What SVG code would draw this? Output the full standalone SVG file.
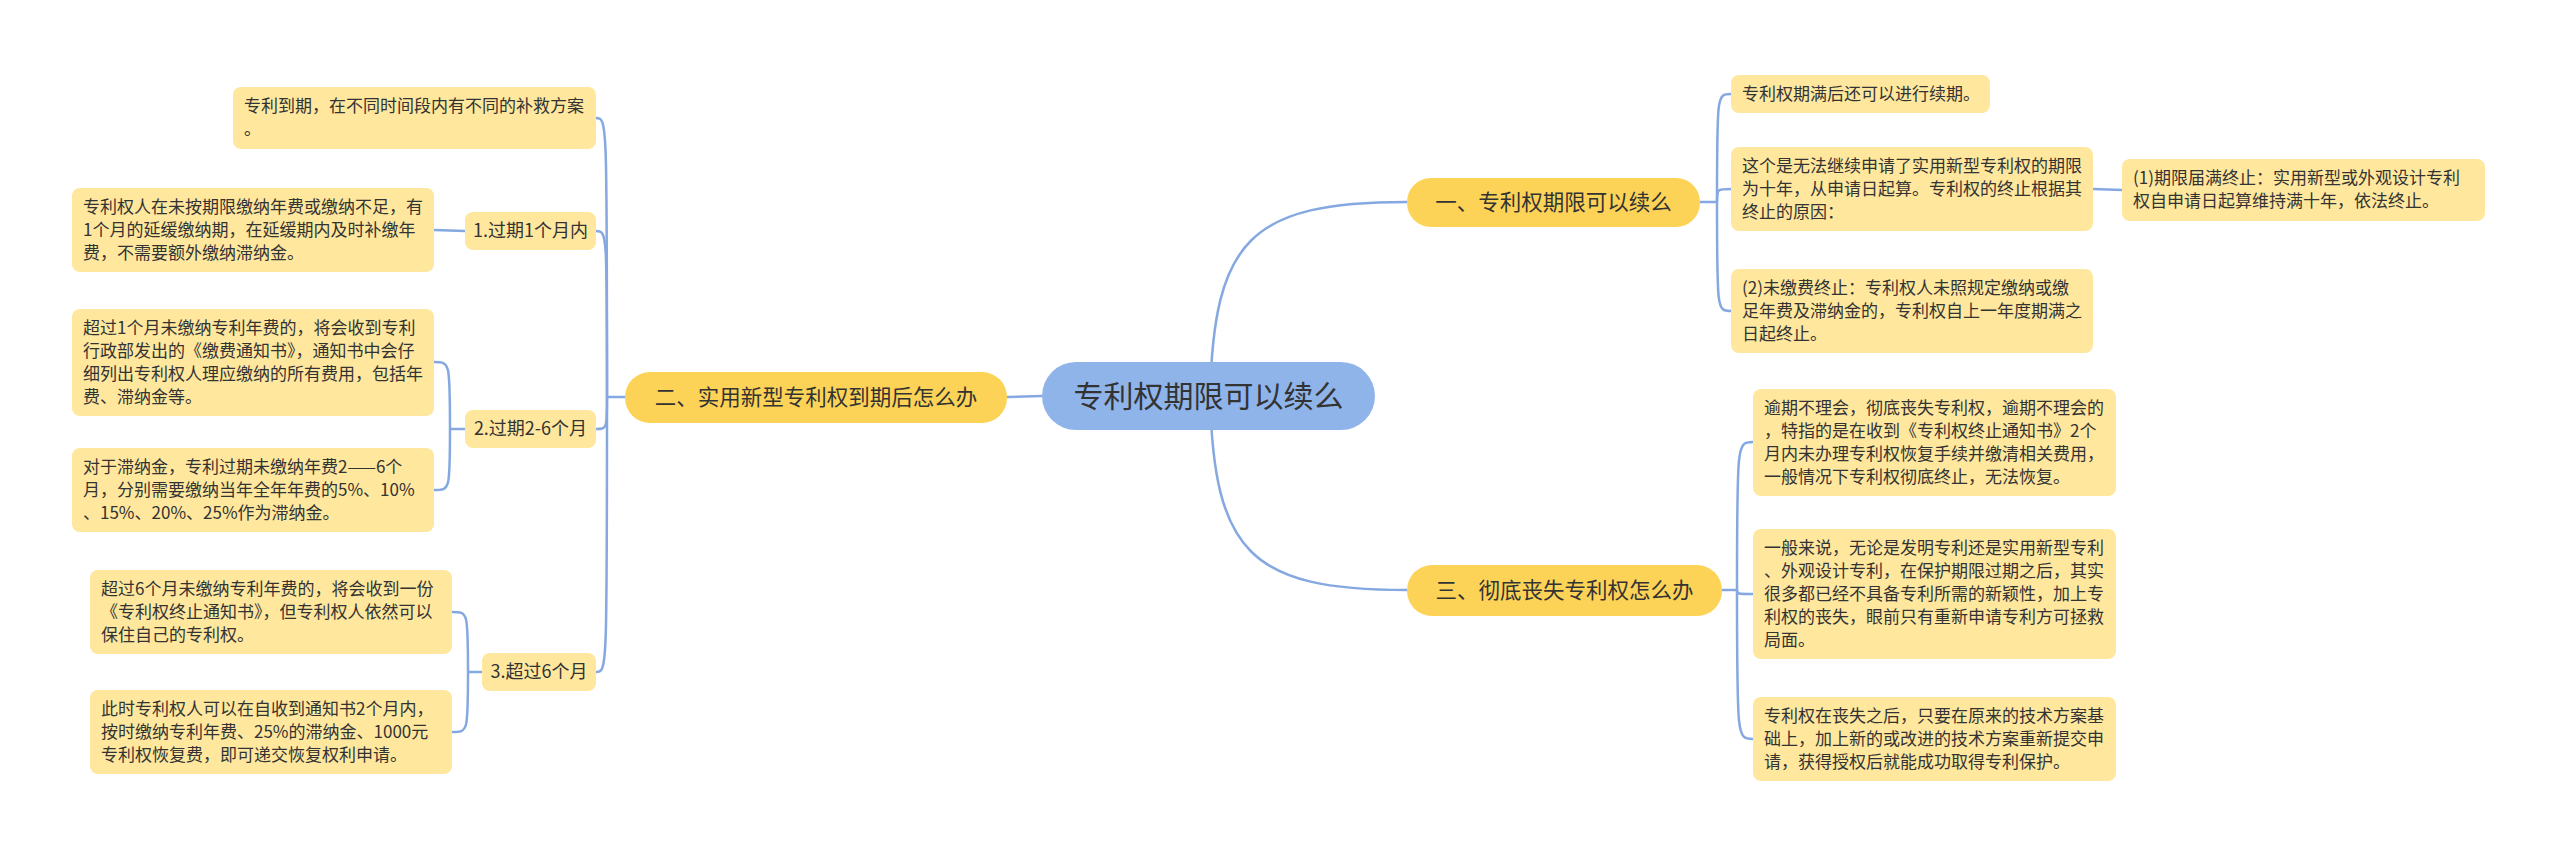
<svg xmlns="http://www.w3.org/2000/svg" width="2560" height="854" viewBox="0 0 2560 854">
<style>
text{font-family:"Noto Sans CJK SC","Noto Sans",sans-serif;fill:#333333}
.leaf rect{fill:#FFE79E}
.leaf text{font-size:17px}
.sub rect{fill:#FFE79E}
.sub text{font-size:18px;text-anchor:middle}
.br rect{fill:#FDD357}
.br text{font-size:21.5px;text-anchor:middle}
.root rect{fill:#8FB4EA}
.root text{font-size:30px;text-anchor:middle}
.conn path{fill:none;stroke:#86A8E0;stroke-width:2.5}
</style>
<rect width="2560" height="854" fill="#ffffff"/>
<g class="conn" id="connectors">
<path d="M1042 396 L1007 397"/>
<path d="M1210 396 C1214 240,1250 202,1407 202"/>
<path d="M1210 396 C1214 552,1250 590,1407 590"/>
<path d="M625 397 L607 397"/>
<path d="M607 397 C607 118,607 118,596 118"/>
<path d="M607 397 C607 231,607 231,596 231"/>
<path d="M607 397 C607 429,607 429,596 429"/>
<path d="M607 397 C607 672,607 672,596 672"/>
<path d="M465 231 L434 230"/>
<path d="M465 429 L450 429"/>
<path d="M450 429 C450 362,450 362,434 362"/>
<path d="M450 429 C450 490,450 490,434 490"/>
<path d="M482 672 L468 672"/>
<path d="M468 672 C468 612,468 612,452 612"/>
<path d="M468 672 C468 732,468 732,452 732"/>
<path d="M1700 202 L1717 202"/>
<path d="M1717 202 C1717 94,1717 94,1731 94"/>
<path d="M1717 202 C1717 189,1717 189,1731 189"/>
<path d="M1717 202 C1717 311,1717 311,1731 311"/>
<path d="M2093 189 L2122 190"/>
<path d="M1722 590 L1737 590"/>
<path d="M1737 590 C1737 442,1737 442,1753 442"/>
<path d="M1737 590 C1737 594,1737 594,1753 594"/>
<path d="M1737 590 C1737 739,1737 739,1753 739"/>
</g>
<g class="root" id="root"><rect x="1042" y="362" width="333" height="68" rx="34"/><text x="1208.5" y="407">专利权期限可以续么</text></g>
<g class="br" id="b2"><rect x="625" y="372" width="382" height="51" rx="25"/><text x="816" y="405">二、实用新型专利权到期后怎么办</text></g>
<g class="br" id="b1"><rect x="1407" y="178" width="293" height="49" rx="24"/><text x="1553.5" y="210">一、专利权期限可以续么</text></g>
<g class="br" id="b3"><rect x="1407" y="565" width="315" height="51" rx="25"/><text x="1564.5" y="598">三、彻底丧失专利权怎么办</text></g>
<g class="sub" id="s1"><rect x="465" y="212" width="131" height="38" rx="8"/><text x="530.5" y="237">1.过期1个月内</text></g>
<g class="sub" id="s2"><rect x="465" y="410" width="131" height="38" rx="8"/><text x="530.5" y="435">2.过期2-6个月</text></g>
<g class="sub" id="s3"><rect x="482" y="653" width="114" height="38" rx="8"/><text x="539" y="678">3.超过6个月</text></g>
<g class="leaf" id="lA"><rect x="233" y="87" width="363" height="62" rx="8"/><text x="244" y="112">专利到期，在不同时间段内有不同的补救方案</text><text x="244" y="135">。</text></g>
<g class="leaf" id="lB"><rect x="72" y="188" width="362" height="84" rx="8"/><text x="83" y="213">专利权人在未按期限缴纳年费或缴纳不足，有</text><text x="83" y="236">1个月的延缓缴纳期，在延缓期内及时补缴年</text><text x="83" y="259">费，不需要额外缴纳滞纳金。</text></g>
<g class="leaf" id="lC"><rect x="72" y="309" width="362" height="107" rx="8"/><text x="83" y="334">超过1个月未缴纳专利年费的，将会收到专利</text><text x="83" y="357">行政部发出的《缴费通知书》，通知书中会仔</text><text x="83" y="380">细列出专利权人理应缴纳的所有费用，包括年</text><text x="83" y="403">费、滞纳金等。</text></g>
<g class="leaf" id="lD"><rect x="72" y="448" width="362" height="84" rx="8"/><text x="83" y="473">对于滞纳金，专利过期未缴纳年费2——6个</text><text x="83" y="496">月，分别需要缴纳当年全年年费的5%、10%</text><text x="83" y="519">、15%、20%、25%作为滞纳金。</text></g>
<g class="leaf" id="lE"><rect x="90" y="570" width="362" height="84" rx="8"/><text x="101" y="595">超过6个月未缴纳专利年费的，将会收到一份</text><text x="101" y="618">《专利权终止通知书》，但专利权人依然可以</text><text x="101" y="641">保住自己的专利权。</text></g>
<g class="leaf" id="lF"><rect x="90" y="690" width="362" height="84" rx="8"/><text x="101" y="715">此时专利权人可以在自收到通知书2个月内，</text><text x="101" y="738">按时缴纳专利年费、25%的滞纳金、1000元</text><text x="101" y="761">专利权恢复费，即可递交恢复权利申请。</text></g>
<g class="leaf" id="lG"><rect x="1731" y="75" width="259" height="38" rx="8"/><text x="1742" y="100">专利权期满后还可以进行续期。</text></g>
<g class="leaf" id="lH"><rect x="1731" y="147" width="362" height="84" rx="8"/><text x="1742" y="172">这个是无法继续申请了实用新型专利权的期限</text><text x="1742" y="195">为十年，从申请日起算。专利权的终止根据其</text><text x="1742" y="218">终止的原因：</text></g>
<g class="leaf" id="lI"><rect x="2122" y="159" width="363" height="62" rx="8"/><text x="2133" y="184">(1)期限届满终止：实用新型或外观设计专利</text><text x="2133" y="207">权自申请日起算维持满十年，依法终止。</text></g>
<g class="leaf" id="lJ"><rect x="1731" y="269" width="362" height="84" rx="8"/><text x="1742" y="294">(2)未缴费终止：专利权人未照规定缴纳或缴</text><text x="1742" y="317">足年费及滞纳金的，专利权自上一年度期满之</text><text x="1742" y="340">日起终止。</text></g>
<g class="leaf" id="lK"><rect x="1753" y="389" width="363" height="107" rx="8"/><text x="1764" y="414">逾期不理会，彻底丧失专利权，逾期不理会的</text><text x="1764" y="437">，特指的是在收到《专利权终止通知书》2个</text><text x="1764" y="460">月内未办理专利权恢复手续并缴清相关费用，</text><text x="1764" y="483">一般情况下专利权彻底终止，无法恢复。</text></g>
<g class="leaf" id="lL"><rect x="1753" y="529" width="363" height="130" rx="8"/><text x="1764" y="554">一般来说，无论是发明专利还是实用新型专利</text><text x="1764" y="577">、外观设计专利，在保护期限过期之后，其实</text><text x="1764" y="600">很多都已经不具备专利所需的新颖性，加上专</text><text x="1764" y="623">利权的丧失，眼前只有重新申请专利方可拯救</text><text x="1764" y="646">局面。</text></g>
<g class="leaf" id="lM"><rect x="1753" y="697" width="363" height="84" rx="8"/><text x="1764" y="722">专利权在丧失之后，只要在原来的技术方案基</text><text x="1764" y="745">础上，加上新的或改进的技术方案重新提交申</text><text x="1764" y="768">请，获得授权后就能成功取得专利保护。</text></g>
</svg>
